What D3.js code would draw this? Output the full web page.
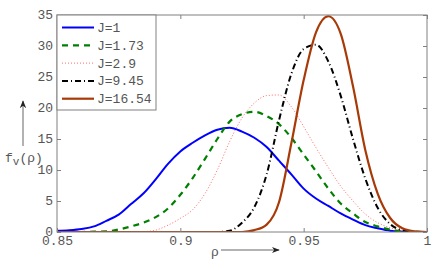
<!DOCTYPE html>
<html>
<head>
<meta charset="utf-8">
<script src="https://cdn.jsdelivr.net/npm/d3@7"></script>
<style>
  body { margin: 0; background: #fff; }
  text { font-family: "Liberation Mono", "DejaVu Sans Mono", monospace; fill: #555; }
</style>
</head>
<body>
<svg id="chart" width="436" height="273"></svg>
<script>
// rho grid, one value every 0.005 from 0.85 to 1
const rho = d3.range(31).map(i => +(0.85 + i * 0.005).toFixed(3));

const j1 = [0.2, 0.3, 0.5, 0.9, 1.8, 2.8, 4.5, 6.2, 8.5, 11.0, 13.0, 14.4, 15.6, 16.5, 16.8, 16.2,
  15.2, 13.7, 11.5, 9.3, 7.0, 5.4, 4.2, 3.0, 2.0, 1.1, 0.6, 0.2, 0.05, 0, 0];
const j173 = [0, 0, 0, 0.05, 0.1, 0.4, 0.9, 1.5, 2.4, 3.8, 6.0, 8.7, 11.8, 15.0, 17.8, 19.0,
  19.4, 18.7, 17.4, 15.2, 12.5, 9.8, 7.0, 4.6, 3.0, 1.6, 0.9, 0.4, 0.1, 0.02, 0];
const j29 = [0, 0, 0, 0, 0, 0, 0, 0.05, 0.3, 1.1, 2.2, 3.6, 6.2, 10.0, 14.6, 18.4,
  20.8, 22.0, 22.1, 20.2, 17.0, 13.6, 10.4, 7.4, 5.0, 2.9, 1.5, 0.7, 0.25, 0.05, 0];
const j945 = [0, 0, 0, 0, 0, 0, 0, 0, 0, 0, 0, 0, 0, 0, 0.2, 1.5,
  4.0, 9.3, 18.0, 25.5, 29.5, 30.2, 27.5, 22.0, 15.0, 8.6, 3.9, 1.3, 0.3, 0.05, 0];
const j1654 = [0, 0, 0, 0, 0, 0, 0, 0, 0, 0, 0, 0, 0, 0, 0, 0,
  0.3, 1.2, 4.8, 14.3, 24.5, 32.2, 34.8, 32.0, 23.5, 13.2, 6.2, 2.3, 0.6, 0.1, 0];

const labels = ["J=1", "J=1.73", "J=2.9", "J=9.45", "J=16.54"];
const xTicks = [0.85, 0.9, 0.95, 1];
const yTicks = [0, 5, 10, 15, 20, 25, 30, 35];

const series = [
  {name: labels[0], values: j1, color: "#0000ff", width: 2, dash: null},
  {name: labels[1], values: j173, color: "#008000", width: 2.2, dash: "6,5"},
  {name: labels[2], values: j29, color: "#ff6b6b", width: 1, dash: "1,2"},
  {name: labels[3], values: j945, color: "#000000", width: 2, dash: "6,3,1,3"},
  {name: labels[4], values: j1654, color: "#a83a08", width: 2.2, dash: null}
];

const margin = {left: 57, right: 9, top: 15, bottom: 41};
const width = 436, height = 273;
const svg = d3.select("#chart");

const x = d3.scaleLinear().domain([0.85, 1]).range([margin.left, width - margin.right]);
const y = d3.scaleLinear().domain([0, 35]).range([height - margin.bottom, margin.top]);

const axisColor = "#808080";

// curves
const line = d3.line()
  .x((d, i) => x(rho[i]))
  .y(d => y(d))
  .curve(d3.curveMonotoneX);

svg.append("clipPath").attr("id", "clip")
  .append("rect")
  .attr("x", margin.left).attr("y", margin.top - 2)
  .attr("width", x(1) - margin.left).attr("height", y(0) - margin.top + 2);

svg.append("g")
  .attr("clip-path", "url(#clip)")
  .selectAll("path")
  .data(series)
  .enter().append("path")
  .attr("d", d => line(d.values))
  .attr("fill", "none")
  .attr("stroke", d => d.color)
  .attr("stroke-width", d => d.width)
  .attr("stroke-dasharray", d => d.dash);

// box + ticks (ticks inside, on all four sides)
const axes = svg.append("g");
axes.append("rect")
  .attr("x", x(0.85)).attr("y", y(35))
  .attr("width", x(1) - x(0.85)).attr("height", y(0) - y(35))
  .attr("fill", "none").attr("stroke", axisColor).attr("stroke-width", 1);

const xAxis = d3.axisBottom(x).tickValues(xTicks).tickSizeInner(-4).tickSizeOuter(0)
  .tickFormat(d => d === 1 ? "1" : String(d));
const gx = axes.append("g").attr("transform", `translate(0,${y(0)})`).call(xAxis);
gx.select(".domain").remove();
gx.selectAll("line").attr("stroke", axisColor);
gx.selectAll("text").attr("dy", "0.65em").attr("y", 5).style("font-size", "13px").attr("fill", "#555");

const gxt = axes.append("g").attr("transform", `translate(0,${y(35)})`)
  .call(d3.axisTop(x).tickValues(xTicks).tickSizeInner(-4).tickSizeOuter(0).tickFormat(""));
gxt.select(".domain").remove();
gxt.selectAll("line").attr("stroke", axisColor);

const yAxis = d3.axisLeft(y).tickValues(yTicks).tickSizeInner(-4).tickSizeOuter(0);
const gy = axes.append("g").attr("transform", `translate(${x(0.85)},0)`).call(yAxis);
gy.select(".domain").remove();
gy.selectAll("line").attr("stroke", axisColor);
gy.selectAll("text").attr("x", -4).attr("dy", "0.25em").style("font-size", "13px").attr("fill", "#555");

const gyr = axes.append("g").attr("transform", `translate(${x(1)},0)`)
  .call(d3.axisRight(y).tickValues(yTicks).tickSizeInner(-4).tickSizeOuter(0).tickFormat(""));
gyr.select(".domain").remove();
gyr.selectAll("line").attr("stroke", axisColor);

// legend
const lg = svg.append("g");
lg.append("rect")
  .attr("x", 57).attr("y", 15).attr("width", 99).attr("height", 95)
  .attr("fill", "#fff").attr("stroke", axisColor).attr("stroke-width", 1);
const item = lg.selectAll("g.item").data(series).enter().append("g")
  .attr("class", "item")
  .attr("transform", (d, i) => `translate(0,${27.5 + i * 17.8})`);
item.append("line")
  .attr("x1", 62).attr("x2", 94)
  .attr("stroke", d => d.color)
  .attr("stroke-width", d => d.width)
  .attr("stroke-dasharray", d => d.dash);
item.append("text")
  .attr("x", 97).attr("dy", "0.35em")
  .style("font-size", "13px")
  .text(d => d.name);

// axis labels with arrows
svg.append("defs").append("marker")
  .attr("id", "arrow").attr("viewBox", "0 0 10 10")
  .attr("refX", 9).attr("refY", 5)
  .attr("markerWidth", 8).attr("markerHeight", 8)
  .attr("orient", "auto")
  .append("path").attr("d", "M0,1 L10,5 L0,9 L3,5 Z").attr("fill", "#222");

svg.append("line")
  .attr("x1", 23).attr("y1", 146).attr("x2", 23).attr("y2", 101)
  .attr("stroke", "#666").attr("stroke-width", 1).attr("marker-end", "url(#arrow)");
const yl = svg.append("text").attr("x", 5).attr("y", 162).style("font-size", "13px");
yl.append("tspan").text("f");
yl.append("tspan").attr("dy", 3).style("font-size", "11px").text("v");
yl.append("tspan").attr("dy", -3).text("(ρ)");

svg.append("line")
  .attr("x1", 221).attr("y1", 250).attr("x2", 279).attr("y2", 250)
  .attr("stroke", "#666").attr("stroke-width", 1).attr("marker-end", "url(#arrow)");
svg.append("text").attr("x", 211).attr("y", 256).style("font-size", "13px").text("ρ");
</script>
</body>
</html>
